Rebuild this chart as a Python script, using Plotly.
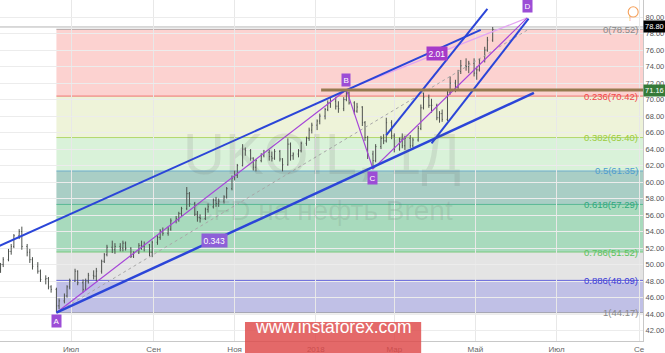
import plotly.graph_objects as go
import pandas as pd

# ---------------- data ----------------
bar_open = [49.5,50.0,50.6,51.6,52.2,53.5,54.0,52.2,51.5,50.6,49.8,49.2,48.2,48.3,47.3,47.0,45.0,45.6,46.2,47.3,
            48.0,49.2,47.8,47.0,48.0,48.7,48.6,49.2,50.4,51.2,52.1,51.8,52.2,52.0,52.6,52.0,51.0,51.4,52.3,52.2,
            52.4,51.5,52.7,53.3,54.1,53.8,54.3,55.3,55.6,56.2,56.8,58.6,57.4,56.1,55.7,55.6,56.7,57.0,57.8,57.4,
            57.7,58.2,59.2,60.5,60.8,62.0,64.0,63.8,62.9,61.8,62.6,63.2,63.6,63.1,62.9,63.7,62.8,62.1,64.6,63.2,
            63.4,63.8,64.7,65.3,66.3,66.9,67.4,68.0,68.8,69.6,69.8,69.2,68.9,70.0,70.8,69.6,68.6,69.1,67.2,65.4,
            63.4,62.6,64.3,65.3,65.0,67.2,65.6,64.0,65.2,64.4,65.3,64.4,65.1,66.5,69.0,70.3,69.3,69.3,67.8,68.3,
            67.6,70.9,72.0,71.5,73.4,74.1,74.0,74.4,73.2,73.6,74.8,76.0,77.2]
bar_high = [50.2,50.9,51.9,52.5,53.7,54.3,54.6,52.5,51.9,50.9,50.3,49.4,48.7,48.5,47.5,47.2,45.9,46.5,47.5,48.3,
            49.5,49.3,48.2,48.3,49.0,49.3,49.6,50.6,51.4,52.4,52.9,52.6,52.6,52.9,52.8,52.1,51.6,52.6,52.9,52.8,
            52.5,52.9,53.6,54.3,54.5,54.6,55.6,55.9,56.4,57.0,59.4,58.8,57.6,56.5,56.1,56.9,57.4,58.0,58.2,58.0,
            58.4,59.4,60.8,61.4,62.2,64.6,64.2,64.0,63.0,62.8,63.5,63.9,63.9,63.7,64.0,63.9,62.9,65.3,64.8,63.6,
            64.0,64.9,65.5,66.6,67.2,67.6,68.3,69.0,69.9,70.2,70.3,69.8,70.3,71.2,71.0,69.8,69.6,69.2,67.4,65.6,
            63.8,64.6,65.6,65.8,67.8,67.5,65.9,65.4,65.9,65.6,65.7,65.4,66.8,69.4,70.9,70.6,70.1,69.5,68.6,68.8,
            71.2,72.8,72.4,73.6,74.8,75.0,74.7,75.0,74.0,75.0,76.4,77.6,78.8]
bar_low = [49.0,49.7,50.4,51.2,52.0,53.1,51.8,51.0,50.2,49.4,48.9,47.9,47.6,47.0,46.6,44.2,44.6,45.3,46.0,47.0,
           47.9,47.5,46.6,46.9,47.7,48.2,48.0,48.9,50.2,51.0,51.4,51.3,51.6,51.6,51.7,50.8,50.8,51.3,51.8,51.6,
           51.0,50.9,52.4,53.0,53.5,53.5,54.1,55.0,55.2,55.9,56.6,57.0,55.9,55.2,55.1,55.4,56.3,56.8,57.0,57.0,
           57.4,58.0,59.0,60.2,60.5,61.9,63.2,62.6,61.4,61.3,62.4,63.0,62.6,62.5,62.7,62.5,61.3,62.0,62.6,62.7,
           63.0,63.6,64.4,65.0,65.9,66.3,67.0,67.6,68.6,69.0,68.8,68.4,68.6,69.8,69.4,68.2,68.4,66.8,65.0,62.8,
           61.6,62.4,64.0,64.6,64.8,65.2,63.6,63.8,64.1,63.9,64.1,64.2,64.9,66.3,68.8,69.0,68.4,67.5,67.2,67.3,
           67.4,70.6,70.9,71.3,73.1,73.5,73.2,72.8,72.4,73.4,74.5,75.8,77.0]
bar_close = [50.0,50.6,51.6,52.2,53.5,54.0,52.2,51.5,50.6,49.8,49.2,48.2,48.3,47.3,47.0,45.0,45.6,46.2,47.3,48.0,
             49.2,47.8,47.0,48.0,48.7,48.6,49.2,50.4,51.2,52.1,51.8,52.2,52.0,52.6,52.0,51.0,51.4,52.3,52.2,52.4,
             51.5,52.7,53.3,54.1,53.8,54.3,55.3,55.6,56.2,56.8,58.6,57.4,56.1,55.7,55.6,56.7,57.0,57.8,57.4,57.7,
             58.2,59.2,60.5,60.8,62.0,64.0,63.8,62.9,61.8,62.6,63.2,63.6,63.1,62.9,63.7,62.8,62.1,64.6,63.2,63.4,
             63.8,64.7,65.3,66.3,66.9,67.4,68.0,68.8,69.6,69.8,69.2,68.9,70.0,70.8,69.6,68.6,69.1,67.2,65.4,63.4,
             62.6,64.3,65.3,65.0,67.2,65.6,64.0,65.2,64.4,65.3,64.4,65.1,66.5,69.0,70.3,69.3,69.3,67.8,68.3,67.6,
             70.9,72.0,71.5,73.4,74.1,74.0,74.4,73.2,73.6,74.8,76.0,77.2,78.5]
bar_dates = pd.bdate_range("2017-05-09", periods=len(bar_close), freq="2B")

fib_ratio_labels = ["0", "0.236", "0.382", "0.5", "0.618", "0.786", "0.886", "1"]
fib_prices = [78.52, 70.42, 65.40, 61.35, 57.29, 51.52, 48.09, 44.17]
fib_line_colors = ["#8a8a8a", "#f04646", "#9ccc3c", "#4f9ccf", "#2fa87c", "#5cc25c", "#3c3cd6", "#8a8a8a"]
fib_fill_colors = ["#fcd2d0", "#eef3d9", "#d9f2d9", "#a9cec5", "#a8dabd", "#e4e4e4", "#c0c0e6"]
fib_start = "2017-06-20"

abcd_names = ["A", "B", "C", "D"]
abcd_dates = ["2017-06-20", "2018-01-24", "2018-02-13", "2018-06-09"]
abcd_prices = [44.17, 71.2, 61.6, 79.9]
abcd_ratio_labels = ["0.343", "2.01"]

channel_upper_dates = ["2017-05-08", "2018-05-05"]
channel_upper_prices = [52.25, 78.45]
channel_lower_dates = ["2017-06-20", "2018-06-14"]
channel_lower_prices = [44.17, 70.8]
steep1_dates = ["2018-02-23", "2018-05-10"]
steep1_prices = [65.7, 81.0]
steep2_dates = ["2018-03-29", "2018-06-10"]
steep2_prices = [64.7, 79.8]
fib_trend_dates = ["2017-06-20", "2018-06-10"]
fib_trend_prices = [44.17, 78.52]

level_start = "2018-01-05"
level_price = 71.16
last_price = 78.80

x_range = ["2017-05-08 14:00", "2018-09-04"]
y_range = [40.74, 82.07]
tick_dates = ["2017-07-01", "2017-09-01", "2017-11-01", "2018-01-01",
              "2018-03-01", "2018-05-01", "2018-07-01", "2018-09-01"]
tick_labels = ["Июл", "Сен", "Ноя", "2018", "Мар", "Май", "Июл", "Се"]

FONT = "Liberation Sans, Arial, sans-serif"
BLUE = "#2b45d8"
PURPLE = "#a646d8"

fig = go.Figure()

# fib zones and level lines
shapes = []
for i in range(len(fib_fill_colors)):
    shapes.append(dict(type="rect", xref="x", yref="y", x0=fib_start, x1=x_range[1],
                       y0=fib_prices[i + 1], y1=fib_prices[i], fillcolor=fib_fill_colors[i],
                       line=dict(width=0), layer="below"))
for p, c in zip(fib_prices, fib_line_colors):
    shapes.append(dict(type="line", xref="x", yref="y", x0=fib_start, x1=x_range[1],
                       y0=p, y1=p, line=dict(color=c, width=1), opacity=0.7, layer="below"))
# last price line
shapes.append(dict(type="line", xref="x", yref="y", x0=x_range[0], x1=x_range[1],
                   y0=last_price, y1=last_price, line=dict(color="#b4b4b4", width=1), layer="below"))

# price bars
fig.add_trace(go.Ohlc(x=bar_dates, open=bar_open, high=bar_high, low=bar_low, close=bar_close,
                      increasing=dict(line=dict(color="#4e524e", width=1)),
                      decreasing=dict(line=dict(color="#4e524e", width=1)),
                      tickwidth=0.3, hoverinfo="skip", showlegend=False))


def add_line(xs, ys, color, width, dash="solid"):
    fig.add_trace(go.Scatter(x=xs, y=ys, mode="lines", line=dict(color=color, width=width, dash=dash),
                             hoverinfo="skip", showlegend=False))


add_line(fib_trend_dates, fib_trend_prices, "#a8a8a8", 1, "dot")
# ABCD pattern
add_line([abcd_dates[1], abcd_dates[3]], [abcd_prices[1], abcd_prices[3]], "#e3a6f2", 1.2)
add_line(abcd_dates, abcd_prices, PURPLE, 1.2)
# channels
add_line(channel_upper_dates, channel_upper_prices, BLUE, 2)
add_line(channel_lower_dates, channel_lower_prices, BLUE, 2.5)
add_line(steep1_dates, steep1_prices, BLUE, 2)
add_line(steep2_dates, steep2_prices, BLUE, 2)
# horizontal level
add_line([level_start, x_range[1]], [level_price, level_price], "#957a50", 3)

annotations = []
# fib labels
for lab, p, c in zip(fib_ratio_labels, fib_prices, fib_line_colors):
    annotations.append(dict(xref="paper", yref="y", x=1, y=p, xanchor="right", yanchor="middle",
                            xshift=-3, text=f"{lab}({p:.2f})", showarrow=False,
                            font=dict(family=FONT, size=9.5, color=c)))

# ABCD point labels
label_anchor = ["top", "bottom", "top", "bottom"]
label_shift = [-1, 3, -2, 5]
for n, d, p, a, s in zip(abcd_names, abcd_dates, abcd_prices, label_anchor, label_shift):
    annotations.append(dict(x=d, y=p, xref="x", yref="y", text=n, showarrow=False, yanchor=a,
                            yshift=s, bgcolor="#9c4dd6", borderpad=1.5,
                            font=dict(family=FONT, size=8, color="white")))


def mid_date(d1, d2):
    t1, t2 = pd.Timestamp(d1), pd.Timestamp(d2)
    return (t1 + (t2 - t1) / 2).strftime("%Y-%m-%d %H:%M")


annotations.append(dict(x=mid_date(abcd_dates[0], abcd_dates[2]),
                        y=(abcd_prices[0] + abcd_prices[2]) / 2, xref="x", yref="y",
                        text=abcd_ratio_labels[0], showarrow=False, bgcolor="#8e5fd8", borderpad=1.5,
                        font=dict(family=FONT, size=8.5, color="white")))
annotations.append(dict(x=mid_date(abcd_dates[1], abcd_dates[3]),
                        y=(abcd_prices[1] + abcd_prices[3]) / 2, xref="x", yref="y",
                        text=abcd_ratio_labels[1], showarrow=False, bgcolor="#a63bc9", borderpad=1.5,
                        font=dict(family=FONT, size=8.5, color="white")))

# watermark
annotations.append(dict(xref="paper", yref="paper", x=0.501, y=0.551, text="UKOIL, 1Д", showarrow=False,
                        font=dict(family=FONT, size=58, color="rgba(90,90,90,0.13)")))
annotations.append(dict(xref="paper", yref="paper", x=0.502, y=0.384, text="CFD на нефть Brent",
                        showarrow=False, font=dict(family=FONT, size=28, color="rgba(90,90,90,0.13)")))

# price axis labels
annotations.append(dict(xref="paper", yref="y", x=1, y=last_price, xanchor="left", xshift=0,
                        text=f"{last_price:.2f}", showarrow=False, bgcolor="#000000", borderpad=1,
                        font=dict(family=FONT, size=7.5, color="white")))
annotations.append(dict(xref="paper", yref="y", x=1, y=level_price, xanchor="left", xshift=0,
                        text=f"{level_price:.2f}", showarrow=False, bgcolor="#357a38", borderpad=1,
                        font=dict(family=FONT, size=7.5, color="white")))

# logo
shapes.append(dict(type="rect", xref="paper", yref="paper", x0=0.381, x1=0.655, y0=-0.04, y1=0.056,
                   fillcolor="rgba(222,72,72,0.82)", line=dict(width=0), layer="above"))
annotations.append(dict(xref="paper", yref="paper", x=0.518, y=0.006, text="www.instaforex.com",
                        showarrow=False, font=dict(family=FONT, size=17.5, color="white")))

# warning icon
shapes.append(dict(type="circle", xref="paper", yref="paper", x0=0.9770, x1=0.9925, y0=0.950, y1=0.980,
                   line=dict(color="#f5a05a", width=1.1), fillcolor="rgba(0,0,0,0)", layer="above"))
annotations.append(dict(xref="paper", yref="paper", x=0.9848, y=0.9655, text="!", showarrow=False,
                        font=dict(family=FONT, size=8, color="#f5a05a")))

fig.update_layout(
    width=665, height=353,
    margin=dict(l=0, r=22, t=0, b=12),
    plot_bgcolor="white", paper_bgcolor="white",
    showlegend=False,
    shapes=shapes, annotations=annotations,
    xaxis=dict(type="date", range=x_range, tickvals=tick_dates, ticktext=tick_labels,
               showgrid=True, gridcolor="#e8e8e8", gridwidth=1, ticks="",
               tickfont=dict(family=FONT, size=8, color="#666"),
               showline=True, linecolor="#c8c8c8", rangeslider=dict(visible=False),
               zeroline=False, fixedrange=True),
    yaxis=dict(side="right", range=y_range, dtick=2, tick0=0, tickformat=".2f",
               showgrid=True, gridcolor="#ececec", gridwidth=1, ticks="",
               tickfont=dict(family=FONT, size=7.5, color="#555"),
               showline=True, linecolor="#c8c8c8", zeroline=False, fixedrange=True,
               automargin=False),
)

fig.write_html("out.html")
